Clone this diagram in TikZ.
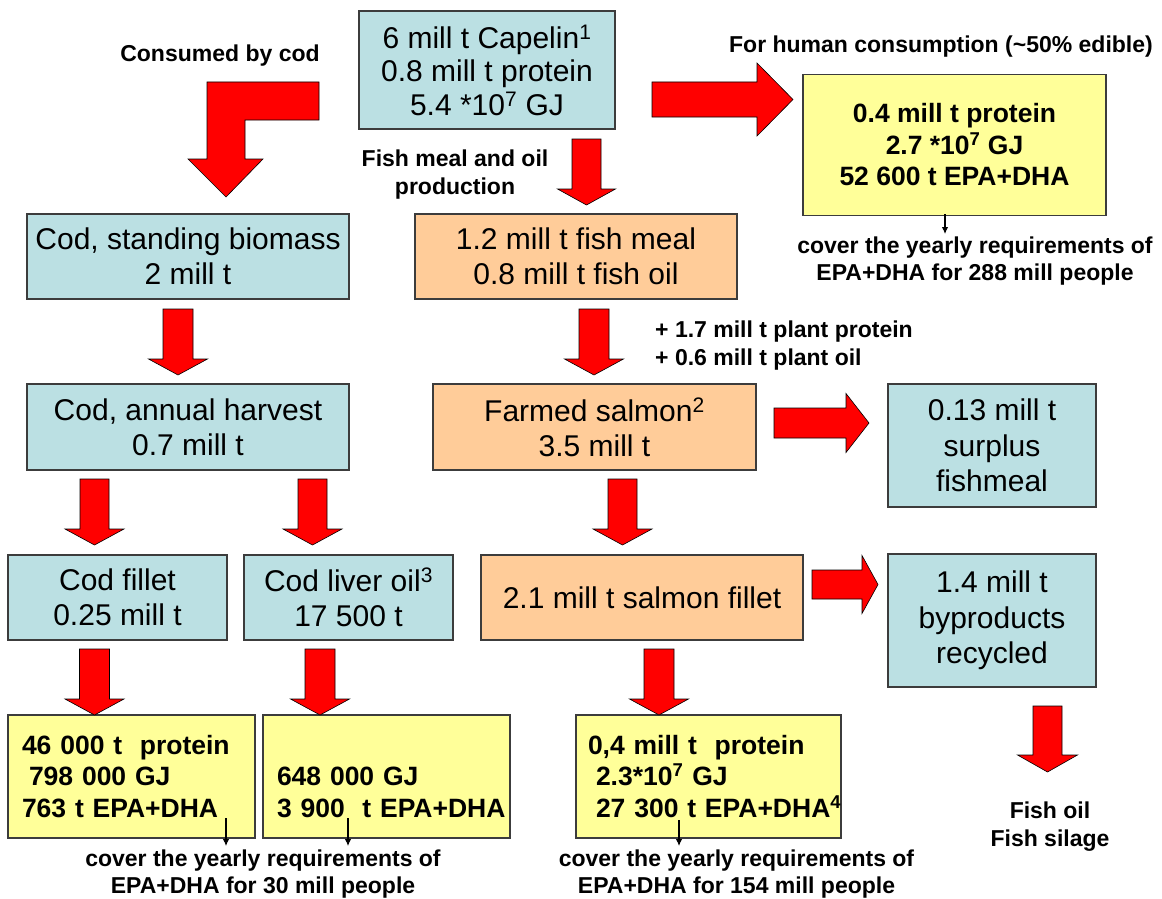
\documentclass[tikz,border=0pt]{standalone}
\usepackage{fontspec}
\setmainfont{Liberation Sans}
\usetikzlibrary{arrows.meta}
\definecolor{boxblue}{RGB}{187,224,227}
\definecolor{boxorange}{RGB}{255,204,153}
\definecolor{boxyellow}{RGB}{255,255,153}
\definecolor{edgegray}{RGB}{60,60,60}
\definecolor{arrowred}{RGB}{255,0,0}
\newcommand\bxfont{\fontsize{30}{35}\selectfont}
\newcommand\lbfont{\fontsize{23}{27.5}\selectfont\bfseries}
\newcommand\ylfont{\fontsize{26.5}{31.5}\selectfont\bfseries}
% cx, shaft half width, head half width, top, head start, tip
\newcommand\blockdown[6]{%
  \filldraw[redarrow] (#1-#2,#4) -- (#1+#2,#4) -- (#1+#2,#5) -- (#1+#3,#5) -- (#1,#6) -- (#1-#3,#5) -- (#1-#2,#5) -- cycle;}
% cy, shaft half width, head half width, left, head start, tip
\newcommand\blockright[6]{%
  \filldraw[redarrow] (#4,#1-#2) -- (#5,#1-#2) -- (#5,#1-#3) -- (#6,#1) -- (#5,#1+#3) -- (#5,#1+#2) -- (#4,#1+#2) -- cycle;}
\begin{document}
\begin{tikzpicture}[x=1pt,y=-1pt,
  basebox/.style={draw=edgegray, line width=1.3pt, inner sep=0pt, align=center, font=\bxfont},
  bluebox/.style={basebox, fill=boxblue},
  orangebox/.style={basebox, fill=boxorange},
  yelbox/.style={basebox, fill=boxyellow, font=\ylfont},
  yelleft/.style={yelbox, align=left, text width=#1},
  lbl/.style={inner sep=0pt, align=center, font=\lbfont},
  redarrow/.style={fill=arrowred, draw=black, line width=0.6pt, line join=miter},
  thinarr/.style={draw=black, line width=1.1pt, -{Latex[length=7pt,width=6.5pt]}}]
\useasboundingbox (0,0) rectangle (1162,899);
\fill[white] (0,0) rectangle (1162,899);

% boxes
\node[bluebox, minimum width=256pt, minimum height=118pt, font=\fontsize{30}{33.5}\selectfont] (capelin) at (487,70)
  {6 mill t Capelin\textsuperscript{1}\\0.8 mill t protein\\5.4 *10\textsuperscript{7} GJ};
\node[bluebox, minimum width=322pt, minimum height=85pt] (codbio) at (188,256.5)
  {Cod, standing biomass\\2 mill t};
\node[orangebox, minimum width=322pt, minimum height=85pt] (fishmeal) at (576,256.5)
  {1.2 mill t fish meal\\0.8 mill t fish oil};
\node[yelbox, minimum width=303pt, minimum height=141pt] (ytop) at (954.5,145)
  {0.4 mill t protein\\2.7 *10\textsuperscript{7} GJ\\52 600 t EPA+DHA};
\node[bluebox, minimum width=322pt, minimum height=86pt] (codharv) at (188,427)
  {Cod, annual harvest\\0.7 mill t};
\node[orangebox, minimum width=323pt, minimum height=86pt] (farmed) at (594.5,427)
  {Farmed salmon\textsuperscript{2}\\3.5 mill t};
\node[bluebox, minimum width=208pt, minimum height=123pt, font=\fontsize{30}{35.5}\selectfont] (surplus) at (992,445.5)
  {0.13 mill t\\surplus\\fishmeal};
\node[bluebox, minimum width=219pt, minimum height=85pt] (codfillet) at (117.5,597.5)
  {Cod fillet\\0.25 mill t};
\node[bluebox, minimum width=209pt, minimum height=85pt] (liver) at (348.5,597.5)
  {Cod liver oil\textsuperscript{3}\\17 500 t};
\node[orangebox, minimum width=322pt, minimum height=85pt] (salfillet) at (642,597.5)
  {2.1 mill t salmon fillet};
\node[bluebox, minimum width=208pt, minimum height=133pt, font=\fontsize{30}{35.5}\selectfont] (byprod) at (992,620.5)
  {1.4 mill t\\byproducts\\recycled};
\node[yelleft=247pt, minimum height=123pt] (yel1) at (131.5,776.5)
  {\mbox{\hspace*{14pt}46 000 t\ \ protein}\\\mbox{\hspace*{21pt}798 000 GJ}\\\mbox{\hspace*{14pt}763 t EPA+DHA}};
\node[yelleft=247pt, minimum height=123pt] (yel2) at (386.5,776.5)
  {\mbox{\vphantom{46 000 t}}\\\mbox{\hspace*{14pt}648 000 GJ}\\\mbox{\hspace*{14pt}3 900\ \ t EPA+DHA}};
\node[yelleft=265pt, minimum height=123pt] (yel3) at (708.5,776.5)
  {\mbox{\hspace*{12pt}0,4 mill t\ \ protein}\\\mbox{\hspace*{20pt}2.3*10\textsuperscript{7} GJ}\\\mbox{\hspace*{20pt}27 300 t EPA+DHA\textsuperscript{4}}};

% labels
\node[lbl] (consumed) at (220,56) {Consumed by cod};
\node[lbl] (human) at (941,47) {For human consumption (\textasciitilde 50\% edible)};
\node[lbl] (fmprod) at (455,174.5) {Fish meal and oil\\production};
\node[lbl, anchor=west, align=left] (plant) at (655,345.5) {+ 1.7 mill t plant protein\\+ 0.6 mill t plant oil};
\node[lbl] (covtop) at (975,261) {cover the yearly requirements of\\EPA+DHA for 288 mill people};
\node[lbl] (covleft) at (263,874) {cover the yearly requirements of\\EPA+DHA for 30 mill people};
\node[lbl] (covright) at (736.5,874) {cover the yearly requirements of\\EPA+DHA for 154 mill people};
\node[lbl] (fishoil) at (1050,826.5) {Fish oil\\Fish silage};

% bent arrow (consumed by cod)
\filldraw[redarrow] (319,82) -- (319,120) -- (245,120) -- (245,159) -- (263,159) -- (226,197)
  -- (188,159) -- (207,159) -- (207,82) -- cycle;

% down block arrows
\blockdown{586.5}{14.5}{29}{139}{189}{205}
\blockdown{178}{15}{29.5}{309}{359}{375}
\blockdown{94.5}{14.5}{29.5}{479}{529}{545}
\blockdown{312.5}{14.5}{29.5}{479}{529}{545}
\blockdown{594}{15}{29.5}{309}{359}{375}
\blockdown{622.5}{14.5}{29.5}{479}{529}{545}
\blockdown{94.5}{15}{29.5}{649}{699}{715}
\blockdown{320}{15}{29.5}{649}{699}{715}
\blockdown{659}{15}{29.5}{649}{699}{715}
\blockdown{1047.5}{14.5}{30}{706}{755}{772}

% right block arrows
\blockright{99.5}{17.5}{36.5}{652}{757}{793}
\blockright{423}{15}{29.5}{774}{846}{869}
\blockright{584.5}{14.5}{29}{812}{862}{878}

% thin arrows
\coordinate (t1a) at (945,214);
\coordinate (t1b) at (945,234);
\coordinate (t2a) at (226,818);
\coordinate (t2b) at (226,846);
\coordinate (t3a) at (348,818);
\coordinate (t3b) at (348,846);
\coordinate (t4a) at (679,820);
\coordinate (t4b) at (679,846);
\draw[thinarr] (t1a) -- (t1b);
\draw[thinarr] (t2a) -- (t2b);
\draw[thinarr] (t3a) -- (t3b);
\draw[thinarr] (t4a) -- (t4b);
\end{tikzpicture}
\end{document}
